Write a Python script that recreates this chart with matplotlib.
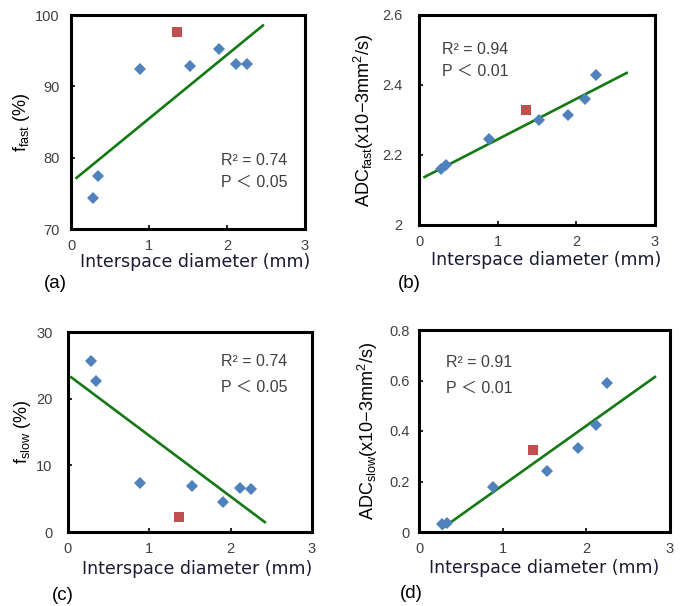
import numpy as np
import matplotlib.pyplot as plt

# interspace diameter (mm), same patients in every panel
diameter = [0.28, 0.34, 0.89, 1.53, 1.90, 2.11, 2.25]
diameter_red = 1.36

f_fast = [74.4, 77.5, 92.5, 92.9, 95.2, 93.2, 93.2]
f_fast_red = 97.6
adc_fast = [2.159, 2.171, 2.245, 2.300, 2.314, 2.361, 2.429]
adc_fast_red = 2.330
f_slow = [25.7, 22.6, 7.3, 6.9, 4.5, 6.6, 6.5]
f_slow_red = 2.3
adc_slow = [0.033, 0.036, 0.180, 0.240, 0.332, 0.424, 0.592]
adc_slow_red = 0.323

# trendline extent (x start, x end) for each panel
trend_a = [0.07, 2.46]
trend_b = [0.07, 2.64]
trend_c = [0.04, 2.42]
trend_d = [0.28, 2.82]

stats_a = ['R² = 0.74', 'P ＜ 0.05']
stats_b = ['R² = 0.94', 'P ＜ 0.01']
stats_c = ['R² = 0.74', 'P ＜ 0.05']
stats_d = ['R² = 0.91', 'P ＜ 0.01']

BLUE = '#4F81BD'
RED = '#C0504D'
GREEN = '#137A13'
GREY = '#404040'
FONT = ['Liberation Sans', 'Noto Sans CJK JP']

plt.rcParams['mathtext.fontset'] = 'custom'
plt.rcParams['mathtext.rm'] = 'Liberation Sans'
plt.rcParams['mathtext.it'] = 'Liberation Sans'


def panel(fig, rect, y, y_red, trend, ylim, yticks, ylabel, stats, stats_pos,
          tag, tag_pos, xlabel_pos, ylabel_x, ytick_pad):
    ax = fig.add_axes(rect)

    # least squares fit through the blue points only
    slope, icpt = np.polyfit(diameter, y, 1)
    tx = np.array(trend)
    ax.plot(tx, slope * tx + icpt, color=GREEN, lw=1.9, zorder=2)

    ax.plot(diameter, y, 'D', color=BLUE, ms=6.2, mew=0, zorder=3)
    ax.plot([diameter_red], [y_red], 's', color=RED, ms=7.8, mew=0, zorder=3)

    ax.set_xlim(0, 3)
    ax.set_ylim(*ylim)
    ax.set_xticks([0, 1, 2, 3])
    ax.set_yticks(yticks)
    ax.set_yticklabels([f'{t:g}' for t in yticks])
    ax.tick_params(direction='in', length=3, width=1.2, colors='black',
                   labelcolor=GREY, labelsize=10.5)
    ax.tick_params(axis='x', pad=7)
    ax.tick_params(axis='y', pad=ytick_pad)
    for lab in ax.get_xticklabels() + ax.get_yticklabels():
        lab.set_family('Liberation Sans')
    for sp in ax.spines.values():
        sp.set_linewidth(2.2)

    ax.text(xlabel_pos[0], xlabel_pos[1], 'Interspace diameter (mm)',
            transform=ax.transAxes, ha='center', va='center', fontsize=12.5,
            color='#1a1a33', family='DejaVu Sans')
    ax.text(ylabel_x, 0.5, ylabel, transform=ax.transAxes, rotation=90,
            ha='center', va='center', fontsize=13, color='black',
            family='Liberation Sans')

    sx, sy0, sy1 = stats_pos
    ax.text(sx, sy0, stats[0], transform=ax.transAxes, ha='left', va='center',
            fontsize=11.5, color=GREY, family=FONT)
    ax.text(sx, sy1, stats[1], transform=ax.transAxes, ha='left', va='center',
            fontsize=11.5, color=GREY, family=FONT)

    fig.text(tag_pos[0], tag_pos[1], tag, ha='left', va='center',
             fontsize=13.5, color='black', family='Liberation Sans')
    return ax


W, H = 680, 606
fig = plt.figure(figsize=(W / 100, H / 100), dpi=100)


def box(l, r, t, b):
    return [l / W, 1 - b / H, (r - l) / W, (b - t) / H]


panel(fig, box(71, 305, 15, 229), f_fast, f_fast_red, trend_a, (70, 100),
      [70, 80, 90, 100], r'f$_{\mathrm{fast}}$ (%)', stats_a, (0.64, 0.32, 0.22),
      '(a)', (44 / W, 1 - 283 / H), (0.53, -0.155), -0.21, 8)
panel(fig, box(419, 655, 15, 225), adc_fast, adc_fast_red, trend_b, (2.0, 2.6),
      [2.0, 2.2, 2.4, 2.6], r'ADC$_{\mathrm{fast}}$(x10−3mm$^{2}$/s)', stats_b,
      (0.097, 0.838, 0.733), '(b)', (398 / W, 1 - 283 / H), (0.54, -0.165),
      -0.235, 12)
panel(fig, box(68, 312, 332, 532), f_slow, f_slow_red, trend_c, (0, 30),
      [0, 10, 20, 30], r'f$_{\mathrm{slow}}$ (%)', stats_c, (0.627, 0.85, 0.725),
      '(c)', (52 / W, 1 - 595 / H), (0.53, -0.185), -0.185, 11)
panel(fig, box(419, 670, 330, 532), adc_slow, adc_slow_red, trend_d, (0, 0.8),
      [0, 0.2, 0.4, 0.6, 0.8], r'ADC$_{\mathrm{slow}}$(x10−3mm$^{2}$/s)', stats_d,
      (0.108, 0.837, 0.713), '(d)', (400 / W, 1 - 593 / H), (0.5, -0.18),
      -0.205, 7)

fig.savefig('out.png', dpi=100, facecolor='white')
